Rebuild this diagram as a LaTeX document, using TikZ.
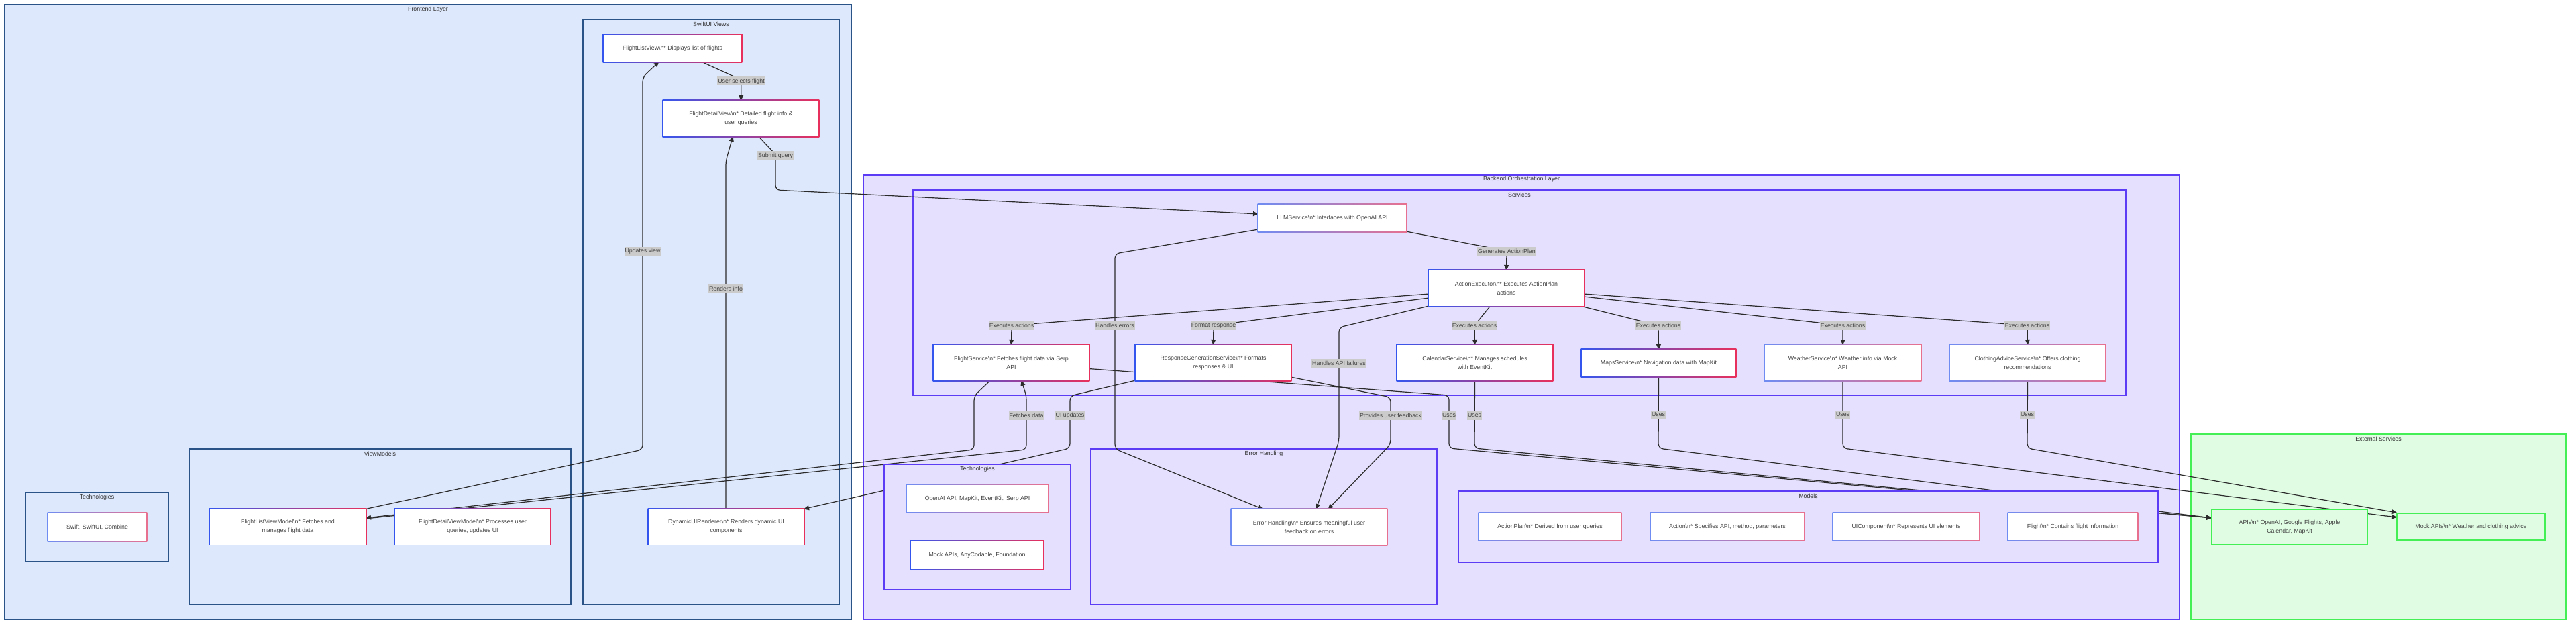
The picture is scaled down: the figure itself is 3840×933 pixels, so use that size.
\documentclass[tikz,border=0pt]{standalone}
\usepackage{fontspec}
\setmainfont{Liberation Sans}
\usetikzlibrary{arrows.meta}
\definecolor{feFill}{HTML}{DEE8FC}
\definecolor{feLine}{HTML}{2A5388}
\definecolor{beFill}{HTML}{E4E0FD}
\definecolor{beLine}{HTML}{5C3DF5}
\definecolor{exFill}{HTML}{E0FDE3}
\definecolor{exLine}{HTML}{44EE55}
\definecolor{gBlue}{HTML}{3556EE}
\definecolor{gRed}{HTML}{E8305C}
\definecolor{gBlueL}{HTML}{6F8CF2}
\definecolor{gRedL}{HTML}{E8708F}
\definecolor{lblFill}{HTML}{CBCBCB}
\definecolor{txt}{HTML}{444444}
\definecolor{ttl}{HTML}{333333}
\definecolor{edgeC}{HTML}{2B2B2B}
\pgfdeclarelayer{bg}
\pgfdeclarelayer{clusters}
\pgfdeclarelayer{edges}
\pgfdeclarelayer{late}
\pgfdeclarelayer{frames}
\pgfdeclarelayer{labels}
\pgfsetlayers{bg,clusters,edges,late,frames,main,labels}
\tikzset{
  fnt/.style={font=\fontsize{8.8}{13.2}\selectfont},
  box/.style={fnt, fill=white, draw=none, outer sep=0pt, inner sep=2pt, align=center, text=txt},
  big/.style={box, minimum width=231pt, minimum height=53pt},
  small/.style={box, minimum height=40pt},
  exbox/.style={fnt, fill=exFill, draw=exLine, line width=2pt, outer sep=0pt, inner sep=2pt, align=center, text=txt},
  feCl/.style={fill=feFill, draw=feLine, line width=2pt},
  beCl/.style={fill=beFill, draw=beLine, line width=2pt},
  exCl/.style={fill=exFill, draw=exLine, line width=2pt},
  ctitle/.style={fnt, text=ttl, inner sep=0pt},
  lbl/.style={fnt, fill=lblFill, text=txt, inner xsep=1pt, inner ysep=0pt, minimum height=13pt},
  edge/.style={draw=edgeC, line width=1.2pt, rounded corners=7pt, -{Triangle[length=8pt,width=7pt]}},
}
\begin{document}
\begin{tikzpicture}[x=1pt,y=-1pt]
\useasboundingbox (0,0) rectangle (3840,933);
\begin{pgfonlayer}{bg}
\fill[white] (0,0) rectangle (3840,933);
\end{pgfonlayer}

% ---------- clusters ----------
\begin{pgfonlayer}{clusters}
\draw[feCl] (7,7) rectangle (1269,923);
\node[ctitle] (tFront) at (638,14) {Frontend Layer};
\draw[feCl] (869,29) rectangle (1251,901);
\node[ctitle] (tViews) at (1060,36) {SwiftUI Views};
\draw[feCl] (38,734) rectangle (251,837);
\node[ctitle] (tTechFE) at (144.5,741) {Technologies};
\draw[feCl] (282,669) rectangle (851,901);
\node[ctitle] (tVM) at (566.5,676) {ViewModels};
\draw[beCl] (1287,261) rectangle (3249,923);
\node[ctitle] (tBack) at (2268,267) {Backend Orchestration Layer};
\draw[beCl] (1361,283) rectangle (3169,589);
\node[ctitle] (tServ) at (2265,290) {Services};
\draw[beCl] (1626,669) rectangle (2142,901);
\node[ctitle] (tErr) at (1884,676) {Error Handling};
\draw[exCl] (3266,647) rectangle (3825,923);
\node[ctitle] (tExt) at (3545.5,654) {External Services};
\end{pgfonlayer}

\begin{pgfonlayer}{late}
\draw[beCl] (1318,692) rectangle (1596,879);
\node[ctitle] (tTechBE) at (1457,699) {Technologies};
\draw[beCl] (2174,732) rectangle (3217,838);
\node[ctitle] (tModels) at (2695.5,739) {Models};
\end{pgfonlayer}

% ---------- nodes ----------
\node[small, minimum width=205pt] (flv) at (1002.5,72) {FlightListView\textbackslash n* Displays list of flights};
\node[big] (fdv) at (1104.5,176.5) {FlightDetailView\textbackslash n* Detailed flight info \&\\user queries};
\node[small, minimum width=146pt, minimum height=41pt] (swift) at (145,785.5) {Swift, SwiftUI, Combine};
\node[big, minimum width=232pt] (flvm) at (429,785) {FlightListViewModel\textbackslash n* Fetches and\\manages flight data};
\node[big] (fdvm) at (704.5,785) {FlightDetailViewModel\textbackslash n* Processes user\\queries, updates UI};
\node[big] (dur) at (1082.5,785) {DynamicUIRenderer\textbackslash n* Renders dynamic UI\\components};
\node[small, minimum width=220pt] (llm) at (1986,325) {LLMService\textbackslash n* Interfaces with OpenAI API};
\node[big] (ae) at (2245.5,429.5) {ActionExecutor\textbackslash n* Executes ActionPlan\\actions};
\node[big] (fs) at (1507.5,540.5) {FlightService\textbackslash n* Fetches flight data via Serp\\API};
\node[big] (rgs) at (1808.5,540.5) {ResponseGenerationService\textbackslash n* Formats\\responses \& UI};
\node[big] (cal) at (2198.5,540.5) {CalendarService\textbackslash n* Manages schedules\\with EventKit};
\node[small, minimum width=229pt] (maps) at (2472.5,541) {MapsService\textbackslash n* Navigation data with MapKit};
\node[big, minimum width=232pt] (weather) at (2747,540.5) {WeatherService\textbackslash n* Weather info via Mock\\API};
\node[big] (clothing) at (3022.5,540.5) {ClothingAdviceService\textbackslash n* Offers clothing\\recommendations};
\node[small, minimum width=210pt] (otech) at (1457,743) {OpenAI API, MapKit, EventKit, Serp API};
\node[small, minimum width=197pt, minimum height=41pt] (mtech) at (1456.5,827.5) {Mock APIs, AnyCodable, Foundation};
\node[big] (eh) at (1951.5,785.5) {Error Handling\textbackslash n* Ensures meaningful user\\feedback on errors};
\node[small, minimum width=211pt] (aplan) at (2310.5,785) {ActionPlan\textbackslash n* Derived from user queries};
\node[small, minimum width=228pt] (action) at (2575,785) {Action\textbackslash n* Specifies API, method, parameters};
\node[small, minimum width=217pt] (uic) at (2841.5,785) {UIComponent\textbackslash n* Represents UI elements};
\node[small, minimum width=192pt] (flight) at (3090,785) {Flight\textbackslash n* Contains flight information};
\node[exbox, minimum width=232pt, minimum height=53pt] (apis) at (3413,785.5) {APIs\textbackslash n* OpenAI, Google Flights, Apple\\Calendar, MapKit};
\node[exbox, minimum width=221pt, minimum height=40pt] (mock) at (3683.5,785) {Mock APIs\textbackslash n* Weather and clothing advice};

% gradient borders
\begin{pgfonlayer}{frames}
\foreach \n in {flv,fdv,flvm,fdvm,dur,fs,rgs,cal,maps,mtech,ae}{
  \shade[left color=gBlue,right color=gRed] ([shift={(-1.3pt,-1.3pt)}]\n.south west) rectangle ([shift={(1.3pt,1.3pt)}]\n.north east);
}
\foreach \n in {swift,llm,weather,clothing,otech,eh,aplan,action,uic,flight}{
  \shade[left color=gBlueL,right color=gRedL] ([shift={(-1.3pt,-1.3pt)}]\n.south west) rectangle ([shift={(1.3pt,1.3pt)}]\n.north east);
}
\end{pgfonlayer}

% ---------- edges ----------
\begin{pgfonlayer}{edges}
\draw[edge] ([xshift=43pt]flv.south) -- (1105,119) -- (fdv.north);
\draw[edge] ([xshift=26pt]fdv.south) -- (1156,230) -- (1156,283) -- ([yshift=6pt]llm.west);
\draw[edge] (llm.south east) -- (2246,374) -- (ae.north);
\draw[edge] ([yshift=-8.5pt]ae.west) -- (1508,485) -- (fs.north);
\draw[edge] ([yshift=-14.5pt]ae.west) -- (1809,485) -- (rgs.north);
\draw[edge] ([xshift=-24pt]ae.south) -- (2198,485) -- (cal.north);
\draw[edge] ([xshift=110pt]ae.south) -- (2472,485) -- (maps.north);
\draw[edge] ([yshift=-12.5pt]ae.east) -- (2747,485) -- (weather.north);
\draw[edge] ([yshift=-8.5pt]ae.east) -- (3022,485) -- (clothing.north);
\draw[edge] ([yshift=-17pt]llm.west) -- (1662,378) -- (1662,669) -- ([xshift=-68pt]eh.north);
\draw[edge] (ae.south west) -- (1996,488) -- (1996,657) -- ([xshift=10.5pt]eh.north);
\draw[edge] ([yshift=-21.5pt]rgs.east) -- (2073,592) -- (2073,662) -- ([xshift=28pt]eh.north);
\draw[edge] ([xshift=-31pt]fs.south) -- (1452,590) -- (1452,670) -- ([yshift=13pt]flvm.east);
\draw[edge] ([yshift=12pt]flvm.east) -- (1530,670) -- (1530,590) -- ([xshift=15pt]fs.south);
\draw[edge] (flvm.north east) -- (958,670) -- (958,115) -- ([xshift=-20pt]flv.south);
\draw[edge] ([xshift=-0.5pt]dur.north) -- (1082,240) -- ([xshift=-12pt]fdv.south);
\draw[edge] (rgs.south west) -- (1595,590) -- (1595,668) -- (dur.north east);
\draw[edge] ([yshift=-9pt]fs.east) -- (2160,589) -- (2160,668) -- ([yshift=13.5pt]apis.west);
\draw[edge] (cal.south) -- (2198,668) -- ([yshift=13.5pt]apis.west);
\draw[edge] (maps.south) -- (2472,668) -- ([yshift=13.5pt]apis.west);
\draw[edge] (weather.south) -- (2747,668) -- ([yshift=14pt]mock.west);
\draw[edge] (clothing.south) -- (3022,668) -- ([yshift=21pt]mock.west);
\end{pgfonlayer}

% ---------- edge labels ----------
\begin{pgfonlayer}{labels}
\node[lbl] (l1) at (1105,121) {User selects flight};
\node[lbl] (l2) at (1156,232) {Submit query};
\node[lbl] (l3) at (958,374) {Updates view};
\node[lbl] (l4) at (1082,430) {Renders info};
\node[lbl] (l5) at (2246,374) {Generates ActionPlan};
\node[lbl] (l6) at (1508,485) {Executes actions};
\node[lbl] (l7) at (1662,485) {Handles errors};
\node[lbl] (l8) at (1809,485) {Format response};
\node[lbl] (l9) at (1996,541) {Handles API failures};
\node[lbl] (l10) at (2198,485) {Executes actions};
\node[lbl] (l11) at (2472,485) {Executes actions};
\node[lbl] (l12) at (2747,485) {Executes actions};
\node[lbl] (l13) at (3022,485) {Executes actions};
\node[lbl] (l14) at (1530,619) {Fetches data};
\node[lbl] (l15) at (1595,619) {UI updates};
\node[lbl] (l16) at (2073,619) {Provides user feedback};
\node[lbl] (l17) at (2160,619) {Uses};
\node[lbl] (l18) at (2198,619) {Uses};
\node[lbl] (l19) at (2472,618) {Uses};
\node[lbl] (l20) at (2747,618) {Uses};
\node[lbl] (l21) at (3022,618) {Uses};
\end{pgfonlayer}
\end{tikzpicture}
\end{document}
